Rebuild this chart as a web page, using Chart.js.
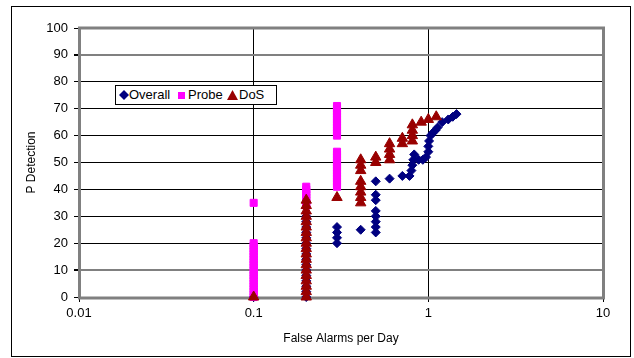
<!DOCTYPE html>
<html>
<head>
<meta charset="utf-8">
<script src="https://cdn.jsdelivr.net/npm/chart.js@4/dist/chart.umd.min.js"></script>
<style>
  html, body { margin: 0; padding: 0; background: #fff; }
  #wrap { position: relative; width: 634px; height: 358px; }
  #legend {
    position: absolute; left: 115px; top: 85px; width: 160px; height: 18px;
    border: 1px solid #000; background: #fff;
    font: 13px "Liberation Sans", Arial, sans-serif; color: #000;
  }
  #legend span { position: absolute; top: 0; line-height: 18px; white-space: nowrap; }
  #legend svg { position: absolute; }
</style>
</head>
<body>
<div id="wrap">
  <canvas id="chart" width="634" height="358"></canvas>
  <div id="legend"></div>
</div>
<script>
// ==========================
// Data
// ==========================
const seriesNames = ["Overall", "Probe", "DoS"];
const seriesColors = ["#000080", "#FF00FF", "#990000"];
const seriesStyles = ["rectRot", "rect", "triangle"];

const xTickValues = [0.01, 0.1, 1, 10];
const xTickLabels = ["0.01", "0.1", "1", "10"];

const overallFA = [0.1,
    0.2, 0.2, 0.2, 0.2, 0.2, 0.2, 0.2, 0.2, 0.2, 0.2, 0.2, 0.2, 0.2, 0.2, 0.2, 0.2,
    0.3, 0.3, 0.3, 0.3, 0.41,
    0.5, 0.5, 0.5, 0.5, 0.5, 0.5, 0.5, 0.5,
    0.6, 0.71, 0.78, 0.8, 0.81, 0.82, 0.83, 0.88, 0.93, 0.97,
    1.0, 1.0, 1.01, 1.03, 1.06, 1.1, 1.13, 1.2, 1.3, 1.38, 1.45];
const overallPD = [0,
    0, 2, 4, 6, 8, 10, 12, 14, 16, 18, 20, 22, 24, 26, 28, 30,
    20, 22, 24, 26, 25,
    24, 26, 28, 30, 32, 36, 38, 43,
    44, 45, 45, 47, 49, 51, 53, 51, 51, 52,
    54, 56, 58, 60, 61, 62, 63, 65, 66, 67, 68];

const probeFA = [
    0.1, 0.1, 0.1, 0.1, 0.1, 0.1, 0.1, 0.1, 0.1, 0.1, 0.1, 0.1, 0.1, 0.1, 0.1, 0.1, 0.1, 0.1, 0.1, 0.1, 0.1, 0.1,
    0.2, 0.2, 0.2, 0.2, 0.2, 0.2, 0.2, 0.2,
    0.3, 0.3, 0.3, 0.3, 0.3, 0.3, 0.3, 0.3, 0.3, 0.3, 0.3, 0.3, 0.3, 0.3,
    0.3, 0.3, 0.3, 0.3, 0.3, 0.3, 0.3, 0.3, 0.3, 0.3, 0.3, 0.3];
const probePD = [
    0, 1, 2, 3, 4, 5, 6, 7, 8, 9, 10, 11, 12, 13, 14, 15, 16, 17, 18, 19, 20, 35,
    34, 35, 36, 37, 38, 39, 40, 41,
    41, 42, 43, 44, 45, 46, 47, 48, 49, 50, 51, 52, 53, 54,
    60, 61, 62, 63, 64, 65, 66, 67, 68, 69, 70, 71];

const dosFA = [0.1,
    0.2, 0.2, 0.2, 0.2, 0.2, 0.2, 0.2, 0.2, 0.2, 0.2, 0.2, 0.2, 0.2, 0.2, 0.2, 0.2, 0.2, 0.2, 0.2,
    0.3, 0.41, 0.41, 0.41, 0.41, 0.41, 0.41, 0.41, 0.41,
    0.5, 0.5, 0.6, 0.6, 0.6, 0.6, 0.71, 0.71,
    0.81, 0.81, 0.81, 0.81, 0.91, 1.0, 1.11];
const dosPD = [0,
    0, 2, 4, 6, 8, 10, 12, 14, 16, 18, 20, 22, 24, 26, 28, 30, 32, 34, 36,
    37, 35, 37, 39, 41, 43, 47, 49, 51,
    50, 52, 51, 53, 55, 57, 57, 59,
    58, 60, 62, 64, 65, 66, 67];

const pts = (xs, ys) => xs.map((x, i) => ({ x: x, y: ys[i] }));
const seriesData = [pts(overallFA, overallPD), pts(probeFA, probePD), pts(dosFA, dosPD)];
const seriesRadius = [4.5, 5, 6];
const seriesOrder = [3, 2, 1];

// ==========================
// Frame + outer border
// ==========================
const framePlugin = {
    id: "frame",
    beforeDraw(chart) {
        const c = chart.ctx;
        c.save();
        c.fillStyle = "#fff";
        c.fillRect(0, 0, chart.width, chart.height);
        c.strokeStyle = "#000";
        c.lineWidth = 1;
        c.strokeRect(11.5, 6.5, 619, 350);
        c.restore();
    },
    beforeDatasetsDraw(chart) {
        const a = chart.chartArea;
        const c = chart.ctx;
        c.save();
        c.strokeStyle = "#808080";
        c.lineWidth = 3;
        c.strokeRect(a.left + 0.5, a.top, a.right - a.left, a.bottom - a.top + 1);
        c.restore();
    }
};

const font = { family: "'Liberation Sans', Arial, sans-serif", size: 13 };

new Chart(document.getElementById("chart"), {
    type: "scatter",
    data: {
        datasets: seriesNames.map((name, i) => ({
            label: name,
            data: seriesData[i],
            pointStyle: seriesStyles[i],
            pointRadius: seriesRadius[i],
            backgroundColor: seriesColors[i],
            borderColor: seriesColors[i],
            borderWidth: 1,
            order: seriesOrder[i],
            clip: false
        }))
    },
    options: {
        responsive: false,
        animation: false,
        events: [],
        layout: { padding: { left: 12, top: 28, right: 31, bottom: 0 } },
        plugins: { legend: { display: false }, tooltip: { enabled: false } },
        scales: {
            x: {
                type: "logarithmic",
                min: 0.01,
                max: 10,
                afterBuildTicks: s => { s.ticks = xTickValues.map(v => ({ value: v })); },
                afterFit: s => { s.height = 61; },
                ticks: {
                    autoSkip: false, maxRotation: 0, padding: 4, color: "#000", font: font,
                    callback: (v, i) => xTickLabels[i]
                },
                grid: { color: "#000", lineWidth: 1, tickLength: 5, tickColor: "#000" },
                border: { display: false },
                title: {
                    display: true, text: "False Alarms per Day", color: "#000",
                    font: { family: font.family, size: 12 }, padding: { top: 0, bottom: 12 }
                }
            },
            y: {
                min: 0,
                max: 100,
                afterFit: s => { s.width = 67; },
                ticks: { stepSize: 10, padding: 6, color: "#000", font: font },
                grid: {
                    color: c => (c.tick && (c.tick.value === 10 || c.tick.value === 90)) ? "#808080" : "#000",
                    lineWidth: c => (c.tick && (c.tick.value === 10 || c.tick.value === 90)) ? 2 : 1,
                    tickLength: 5,
                    tickColor: "#000"
                },
                border: { display: false },
                title: {
                    display: true, text: "P Detection", color: "#000",
                    font: { family: font.family, size: 12 }, padding: { top: 12, bottom: 0 }
                }
            }
        }
    },
    plugins: [framePlugin]
});

// ==========================
// Legend box inside the plot
// ==========================
const legendMarks = [
    c => `<svg width="10" height="10" style="left:3px;top:4px"><polygon points="5,0 10,5 5,10 0,5" fill="${c}"/></svg>`,
    c => `<svg width="7" height="7" style="left:62px;top:6px"><rect width="7" height="7" fill="${c}"/></svg>`,
    c => `<svg width="11" height="10" style="left:111px;top:4px"><polygon points="5.5,0 11,10 0,10" fill="${c}"/></svg>`
];
const legendTextLeft = [13, 72, 123];
const legendBox = document.getElementById("legend");
seriesNames.forEach((name, i) => {
    legendBox.innerHTML += legendMarks[i](seriesColors[i]) +
        `<span style="left:${legendTextLeft[i]}px">${name}</span>`;
});
</script>
</body>
</html>
